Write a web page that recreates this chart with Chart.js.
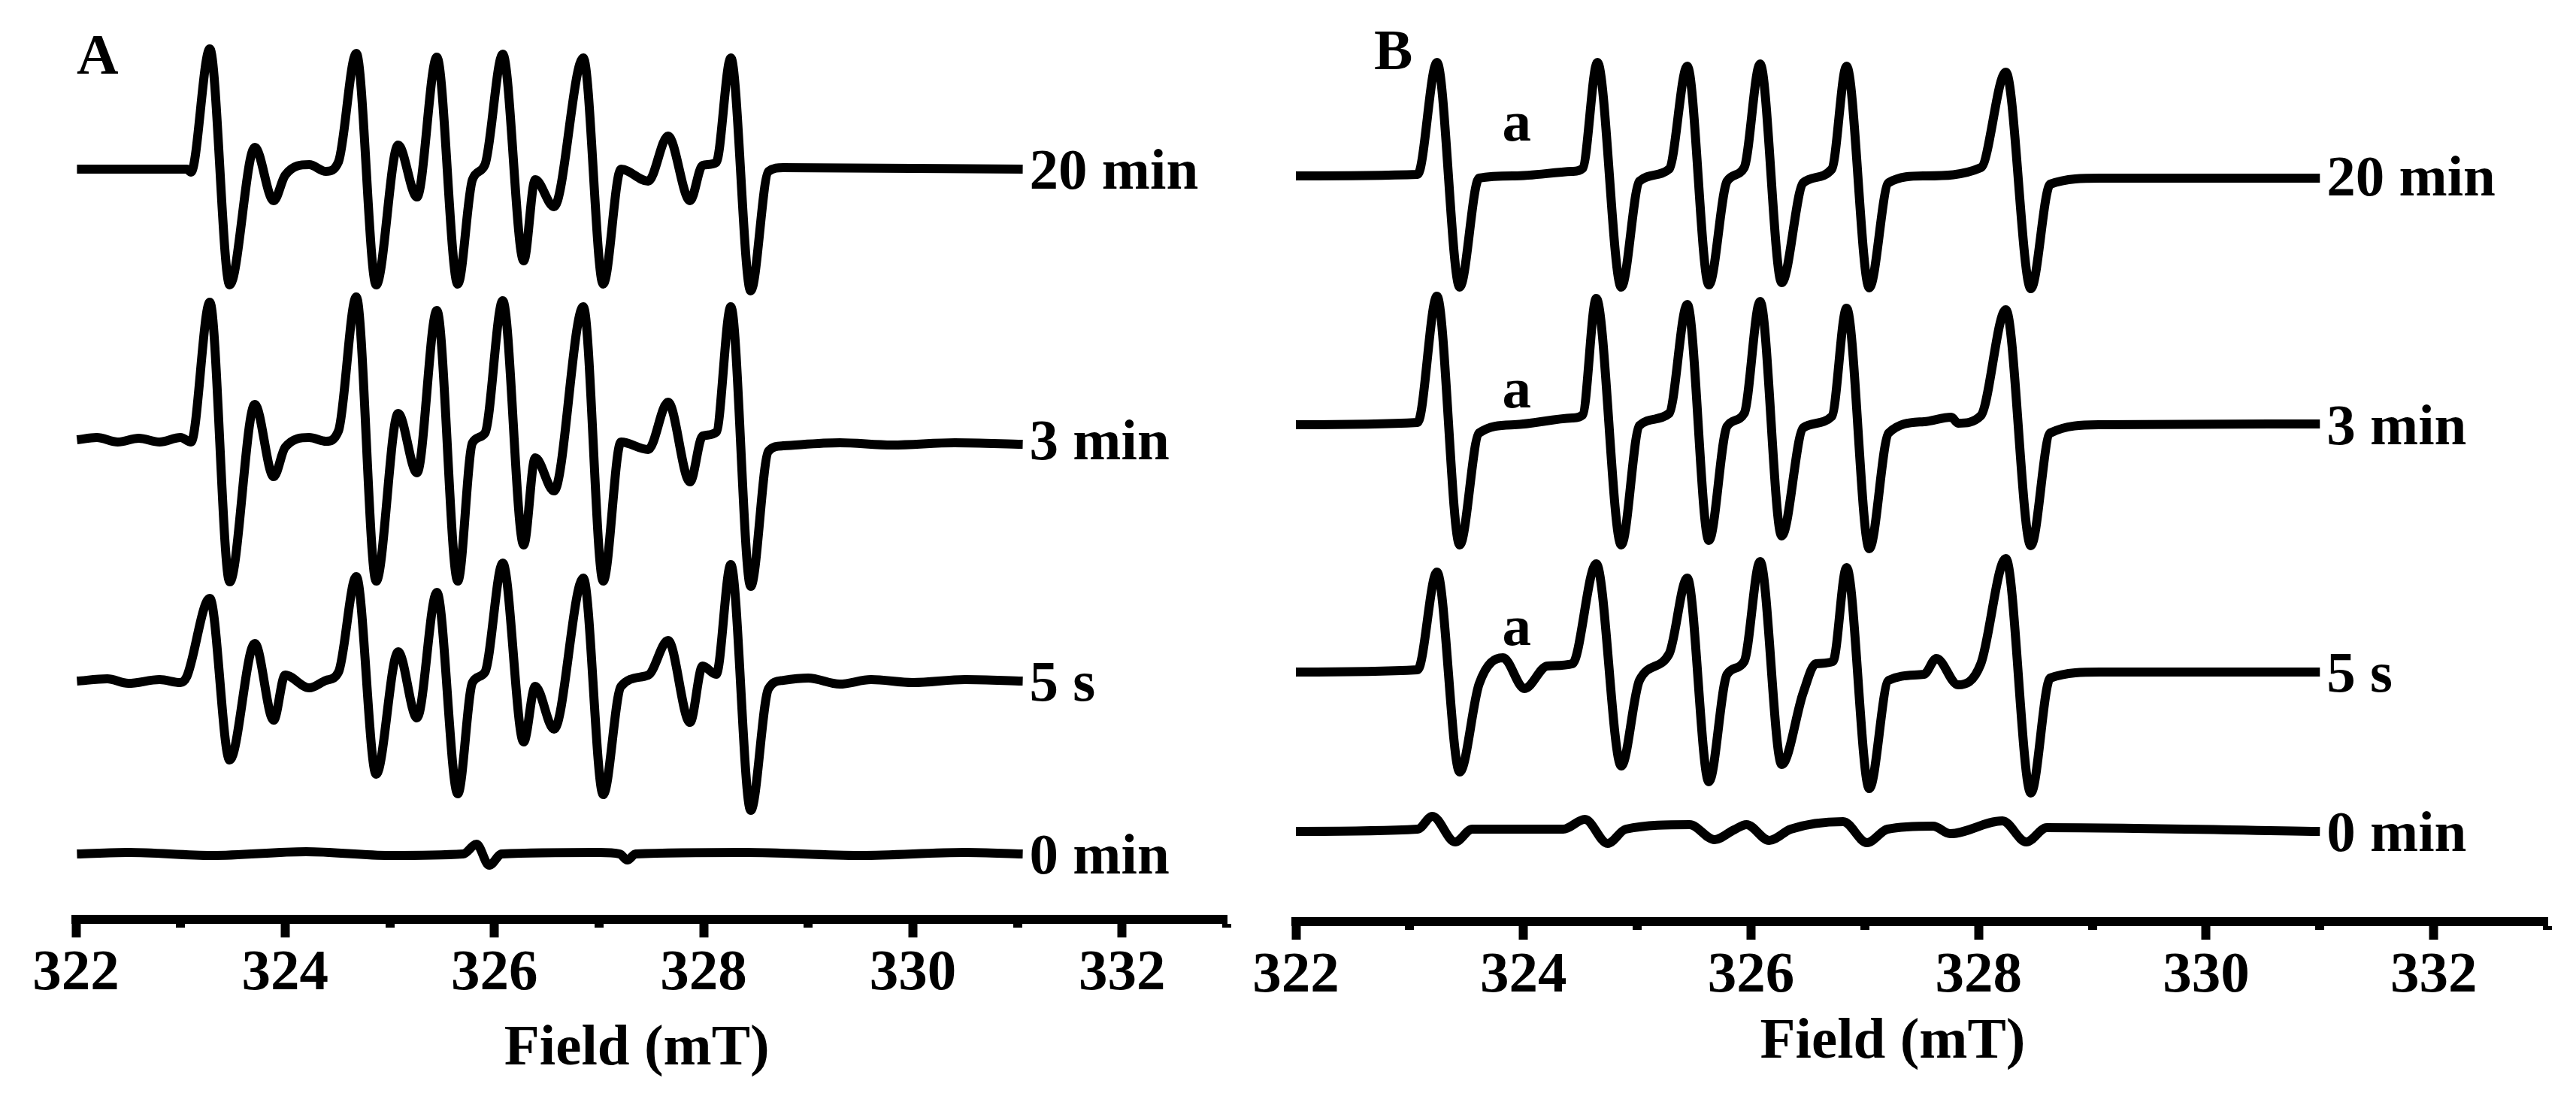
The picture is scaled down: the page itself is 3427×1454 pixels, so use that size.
<!DOCTYPE html>
<html>
<head>
<meta charset="utf-8">
<script src="https://cdn.jsdelivr.net/npm/chart.js@4.4.0/dist/chart.umd.min.js"></script>
<style>
    html, body { margin: 0; padding: 0; background: #fff; }
    #wrapA { position: absolute; left: 0; top: 0; width: 1680px; height: 1454px; }
    #wrapB { position: absolute; left: 1620px; top: 0; width: 1807px; height: 1454px; }
</style>
</head>
<body>
<div id="wrapA"><canvas id="chartA"></canvas></div>
<div id="wrapB"><canvas id="chartB"></canvas></div>
<script>
// EPR spectra, two panels, stacked traces at four times

const FIELD_MIN = 322;
const FIELD_MAX = 333;
const TRACE_LABELS = ['20 min', '3 min', '5 s', '0 min'];

// Panel A traces: [field (mT), signal (a.u.)]
const A_20MIN = [
    [322.01, 0], [323.06, 0], [323.10, -4], [323.28, 160], [323.47, -154], [323.71, 29], [323.89, -42],
    [324.00, -8], [324.23, 6], [324.39, -3], [324.51, 10], [324.68, 154], [324.87, -154], [325.08, 32],
    [325.26, -37], [325.45, 149], [325.65, -153], [325.79, -14], [325.91, 6], [326.08, 153], [326.28, -122],
    [326.39, -14], [326.57, -50], [326.85, 148], [327.04, -153], [327.21, 0], [327.47, -16], [327.66, 44],
    [327.87, -42], [327.99, 5], [328.12, 9], [328.26, 148], [328.45, -162], [328.62, -3], [328.76, 2],
    [331.05, 0]
];
const A_3MIN = [
    [322.01, 0], [322.20, 3], [322.40, -3], [322.60, 2], [322.80, -3], [323.00, 3], [323.10, -3],
    [323.28, 183], [323.47, -189], [323.71, 47], [323.89, -49], [324.00, -10], [324.23, 3], [324.39, -2],
    [324.51, 12], [324.68, 190], [324.87, -188], [325.08, 35], [325.26, -44], [325.45, 172], [325.65, -188],
    [325.79, -4], [325.91, 9], [326.08, 185], [326.28, -140], [326.39, -24], [326.57, -68], [326.85, 177],
    [327.04, -188], [327.21, -3], [327.47, -13], [327.66, 50], [327.87, -56], [327.99, 5], [328.12, 10],
    [328.26, 177], [328.45, -195], [328.62, -15], [328.76, -8], [329.30, -4], [329.80, -7], [330.40, -4],
    [331.05, -6]
];
const A_5S = [
    [322.01, 0], [322.30, 3], [322.50, -3], [322.80, 2], [323.00, -2], [323.06, 6], [323.28, 110],
    [323.47, -105], [323.71, 50], [323.89, -52], [324.00, 8], [324.23, -9], [324.39, 1], [324.51, 12],
    [324.68, 139], [324.87, -124], [325.08, 39], [325.26, -49], [325.45, 118], [325.65, -150], [325.79, -2],
    [325.91, 12], [326.08, 157], [326.28, -81], [326.39, -7], [326.57, -64], [326.85, 137], [327.04, -151],
    [327.21, -7], [327.47, 8], [327.66, 54], [327.87, -55], [327.99, 20], [328.12, 9], [328.26, 155],
    [328.45, -172], [328.62, -10], [328.76, 1], [329.00, 4], [329.30, -4], [329.60, 2], [330.00, -2],
    [330.50, 2], [331.05, 0]
];
const A_0MIN = [
    [322.01, 0], [322.50, 2], [323.30, -2], [324.20, 3], [325.00, -2], [325.70, 0], [325.83, 13],
    [325.95, -15], [326.07, 0], [327.00, 2], [327.20, 0], [327.27, -8], [327.35, 0], [328.40, 2],
    [329.50, -2], [330.50, 2], [331.05, 0]
];
const A_OFFSETS = [998, 638, 317, 87];

// Panel B traces
const B_20MIN = [
    [322.00, 0], [323.07, 2], [323.24, 151], [323.44, -148], [323.61, -3], [323.92, 0], [324.43, 6],
    [324.52, 10], [324.65, 151], [324.86, -148], [325.02, -7], [325.28, 9], [325.44, 146], [325.63, -145],
    [325.79, -7], [325.94, 11], [326.08, 149], [326.27, -142], [326.46, -9], [326.71, 9], [326.84, 146],
    [327.04, -149], [327.21, -9], [327.52, 0], [328.02, 11], [328.24, 138], [328.46, -150], [328.63, -11],
    [329.07, -3], [331.00, -3]
];
const B_3MIN = [
    [322.00, 0], [323.07, 3], [323.24, 171], [323.44, -160], [323.61, -11], [323.92, 0], [324.43, 9],
    [324.52, 13], [324.64, 168], [324.86, -160], [325.02, -1], [325.28, 15], [325.44, 160], [325.63, -154],
    [325.79, -2], [325.94, 15], [326.08, 164], [326.27, -148], [326.46, -4], [326.71, 11], [326.84, 155],
    [327.04, -165], [327.21, -11], [327.52, 4], [327.76, 10], [327.82, 2], [328.02, 12], [328.24, 153],
    [328.46, -161], [328.63, -11], [329.07, 0], [331.00, 1]
];
const B_5S = [
    [322.00, 0], [323.07, 3], [323.24, 133], [323.44, -133], [323.61, -16], [323.82, 19], [324.01, -22],
    [324.21, 8], [324.43, 11], [324.64, 144], [324.86, -125], [325.02, -11], [325.28, 24], [325.44, 125],
    [325.63, -146], [325.79, -3], [325.94, 14], [326.08, 147], [326.27, -123], [326.46, -27], [326.57, 11],
    [326.72, 14], [326.84, 139], [327.04, -155], [327.21, -11], [327.52, -3], [327.63, 18], [327.82, -17],
    [328.02, 11], [328.24, 151], [328.46, -161], [328.63, -8], [329.07, 0], [331.00, 0]
];
const B_0MIN = [
    [322.00, 0], [323.07, 3], [323.20, 20], [323.40, -14], [323.55, 3], [324.35, 3], [324.54, 16],
    [324.74, -16], [324.90, 3], [325.46, 9], [325.68, -11], [325.85, 2], [325.96, 9], [326.16, -12],
    [326.35, 3], [326.81, 13], [327.02, -15], [327.20, 3], [327.60, 7], [327.75, -3], [328.21, 14],
    [328.42, -14], [328.60, 5], [331.00, 0]
];
const B_OFFSETS = [992, 661, 332, 120];

// 'a' marks in panel B
const B_MARK_FIELD = 323.94;
const B_MARK_LIFT = [47, 23, 36];

const SERIF = '"Liberation Serif", "Times New Roman", serif';

function toPoints(pairs, offset) {
    return pairs.map(p => ({ x: p[0], y: p[1] + offset }));
}

// labels, panel letter, minor ticks, 'a' marks
function decorPlugin(cfg) {
    return {
        id: 'decor',
        afterDraw(chart) {
            const ctx = chart.ctx;
            const xs = chart.scales.x;
            const ys = chart.scales.y;
            const area = chart.chartArea;
            ctx.save();
            ctx.fillStyle = '#000';

            // minor ticks on odd values
            for (let v = FIELD_MIN + 1; v <= FIELD_MAX; v += 2) {
                const px = Math.round(xs.getPixelForValue(v));
                ctx.fillRect(px - 6, Math.round(area.bottom) + 6, 12, 5);
            }

            // trace labels
            ctx.font = 'bold 77px ' + SERIF;
            ctx.textAlign = 'left';
            ctx.textBaseline = 'alphabetic';
            chart.data.datasets.forEach((ds, i) => {
                const last = ds.data[ds.data.length - 1];
                const px = xs.getPixelForValue(last.x) + 9;
                const py = ys.getPixelForValue(cfg.offsets[i]) + 26;
                ctx.fillText(ds.label, px, py);
            });

            // 'a' marks
            if (cfg.markLift) {
                ctx.textAlign = 'center';
                cfg.markLift.forEach((lift, i) => {
                    ctx.fillText('a', xs.getPixelForValue(cfg.markField), ys.getPixelForValue(cfg.offsets[i] + lift));
                });
            }

            // panel letter
            ctx.font = 'bold 77px ' + SERIF;
            ctx.textAlign = 'left';
            ctx.fillText(cfg.letter, area.left + cfg.letterDx, cfg.letterY);
            ctx.restore();
        }
    };
}

function buildChart(canvasId, cfg) {
    const datasets = cfg.traces.map((tr, i) => ({
        label: TRACE_LABELS[i],
        data: toPoints(tr, cfg.offsets[i]),
        borderColor: '#000',
        borderWidth: 12,
        borderJoinStyle: 'round',
        cubicInterpolationMode: 'monotone',
        pointRadius: 0,
        fill: false,
        clip: false
    }));

    return new Chart(document.getElementById(canvasId), {
        type: 'line',
        data: { datasets: datasets },
        options: {
            responsive: true,
            maintainAspectRatio: false,
            animation: false,
            devicePixelRatio: 1,
            layout: { padding: cfg.padding },
            plugins: {
                legend: { display: false },
                tooltip: { enabled: false }
            },
            scales: {
                x: {
                    type: 'linear',
                    min: FIELD_MIN,
                    max: FIELD_MAX,
                    grid: {
                        display: true,
                        drawOnChartArea: false,
                        drawTicks: true,
                        tickLength: 24,
                        tickWidth: 12,
                        tickColor: c => (c.tick && Math.round(c.tick.value) % 2 === 0) ? '#000' : 'rgba(0,0,0,0)'
                    },
                    border: { display: true, width: 12, color: '#000' },
                    ticks: {
                        stepSize: 1,
                        autoSkip: false,
                        maxRotation: 0,
                        padding: 3,
                        color: '#000',
                        font: { family: SERIF, size: 77, weight: 'bold' },
                        callback: v => Math.round(v) % 2 === 0 ? String(Math.round(v)) : ''
                    },
                    title: {
                        display: true,
                        text: cfg.title,
                        color: '#000',
                        font: { family: SERIF, size: 77, weight: 'bold', lineHeight: 1 },
                        padding: { top: cfg.titlePadTop, bottom: 0 }
                    }
                },
                y: { display: false, min: 0, max: cfg.yMax }
            }
        },
        plugins: [decorPlugin(cfg)]
    });
}

buildChart('chartA', {
    traces: [A_20MIN, A_3MIN, A_5S, A_0MIN],
    offsets: A_OFFSETS,
    padding: { left: 101, right: 48, top: 20, bottom: 19.5 },
    titlePadTop: 12,
    title: 'Field (mT)\u00a0\u00a0',
    yMax: 1203,
    letter: 'A',
    letterDx: 1,
    letterY: 98
});

buildChart('chartB', {
    traces: [B_20MIN, B_3MIN, B_5S, B_0MIN],
    offsets: B_OFFSETS,
    padding: { left: 104, right: 38, top: 20, bottom: 28.6 },
    titlePadTop: 0,
    title: 'Field (mT)\u00a0\u00a0\u00a0\u00a0',
    yMax: 1206,
    letter: 'B',
    letterDx: 104,
    letterY: 92,
    markField: B_MARK_FIELD,
    markLift: B_MARK_LIFT
});
</script>
</body>
</html>
